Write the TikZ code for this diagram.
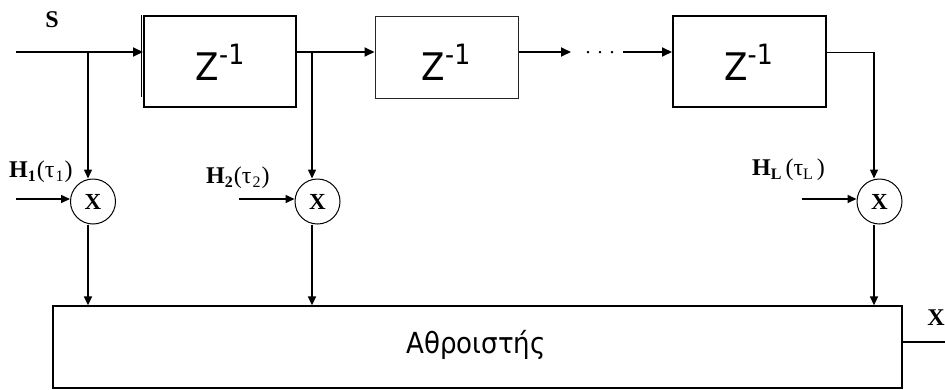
\documentclass[tikz,border=0pt]{standalone}
\usepackage{fontspec}
\setmainfont{Liberation Serif}
\newfontfamily\sansf{DejaVu Sans Condensed}
\usetikzlibrary{arrows.meta}
\newcommand{\lsub}[1]{\raisebox{-4pt}{\fontsize{16}{16}\selectfont #1}}
\newcommand{\lsubb}[1]{\raisebox{-4pt}{\bfseries\fontsize{16}{16}\selectfont #1}}
\newcommand{\zsup}{\raisebox{16pt}{\fontsize{28}{28}\selectfont -1}}
\begin{document}
\begin{tikzpicture}[x=1pt,y=-1pt,
  wire/.style={line width=1.8pt},
  arr/.style={line width=1.8pt,-{Triangle[length=10pt,width=9pt]}},
  varr/.style={line width=1.5pt,-{Triangle[length=9pt,width=8pt]}},
  delaybox/.style={draw,line width=2pt,minimum width=152pt,minimum height=91pt,inner sep=0pt},
  ztext/.style={font=\sansf\fontsize{38}{38}\selectfont,anchor=base,inner sep=0pt},
  mult/.style={draw,circle,line width=1pt,minimum size=45pt,inner sep=0pt,font=\bfseries\fontsize{23}{23}\selectfont},
  lab/.style={font=\fontsize{24}{24}\selectfont,anchor=base west,inner sep=0pt},
  blab/.style={font=\bfseries\fontsize{24}{24}\selectfont,inner sep=0pt},
]
\useasboundingbox (0,0) rectangle (945,389);

% delay boxes
\node[delaybox] (box1) at (220,61.5) {};
\node[delaybox,line width=1pt,draw=black!85,minimum width=143pt,minimum height=82pt] (box2) at (446.5,57) {};
\node[delaybox,minimum width=153pt] (box3) at (749.5,61.5) {};
\draw[line width=1pt] ([xshift=-2pt]box1.north west) -- ++(0,82);
\node[ztext] (z1) at (220,80) {Z\zsup};
\node[ztext] (z2) at (446,80) {Z\zsup};
\node[ztext] (z3) at (748.5,80) {Z\zsup};

% summation box
\node[draw,line width=1.3pt,minimum width=849pt,minimum height=82pt,inner sep=0pt] (sum) at (477.5,347) {};
\node[font=\sansf\fontsize{29}{29}\selectfont,anchor=base,inner sep=0pt] (sumtext) at (476,353) {Αθροιστής};

% multipliers
\node[mult] (m1) at (93,201.5) {X};
\node[mult] (m2) at (317.5,201.5) {X};
\node[mult] (m3) at (879.5,201.5) {X};

% coordinates
\coordinate (s) at (16,52);
\coordinate (b1) at (88,52);
\coordinate (b2) at (312,52);
\coordinate (d1) at (571,52);
\coordinate (d2) at (623,52);
\coordinate (c3) at (874,52);
\coordinate (in1) at (16,199);
\coordinate (in2) at (239,199);
\coordinate (in3) at (802,199);
\coordinate (out) at (945,342);

% main delay line
\draw[arr] (s) -- (s -| box1.west);
\draw[wire] (box1.east |- b2) -- (b2);
\draw[arr] (b2) -- (b2 -| box2.west);
\draw[arr] (box2.east |- d1) -- (d1);
\node[font=\fontsize{20}{20}\selectfont,inner sep=0pt] (dots) at (600,53) {.\hspace{7pt}.\hspace{7pt}.};
\draw[arr] (d2) -- (d2 -| box3.west);
\draw[line width=1pt] (box3.east |- c3) -- (c3);

% taps
\draw[varr] (b1) -- (b1 |- m1.north);
\draw[varr] (b2) -- (b2 |- m2.north);
\draw[varr] (c3) -- (c3 |- m3.north);

% coefficient inputs
\draw[varr] (in1) -- (in1 -| m1.west);
\draw[varr] (in2) -- (in2 -| m2.west);
\draw[varr] (in3) -- (in3 -| m3.west);

% to summation
\draw[varr] (b1 |- m1.south) -- (b1 |- sum.north);
\draw[varr] (b2 |- m2.south) -- (b2 |- sum.north);
\draw[varr] (c3 |- m3.south) -- (c3 |- sum.north);
\draw[wire] (sum.east |- out) -- (out);

% labels
\node[blab] (slab) at (52,20) {S};
\node[blab] (xlab) at (936,317.5) {X};
\node[lab] (h1) at (9,177) {\textbf{H}\lsubb{1}\kern1pt(τ\kern1pt\lsub{1}\kern1pt)};
\node[lab] (h2) at (206,183) {\textbf{H}\lsubb{2}\kern1pt(τ\kern1pt\lsub{2}\kern1pt)};
\node[lab] (hl) at (752,175) {\textbf{H}\lsubb{L}\,(τ\lsub{L}\,)};
\end{tikzpicture}
\end{document}
